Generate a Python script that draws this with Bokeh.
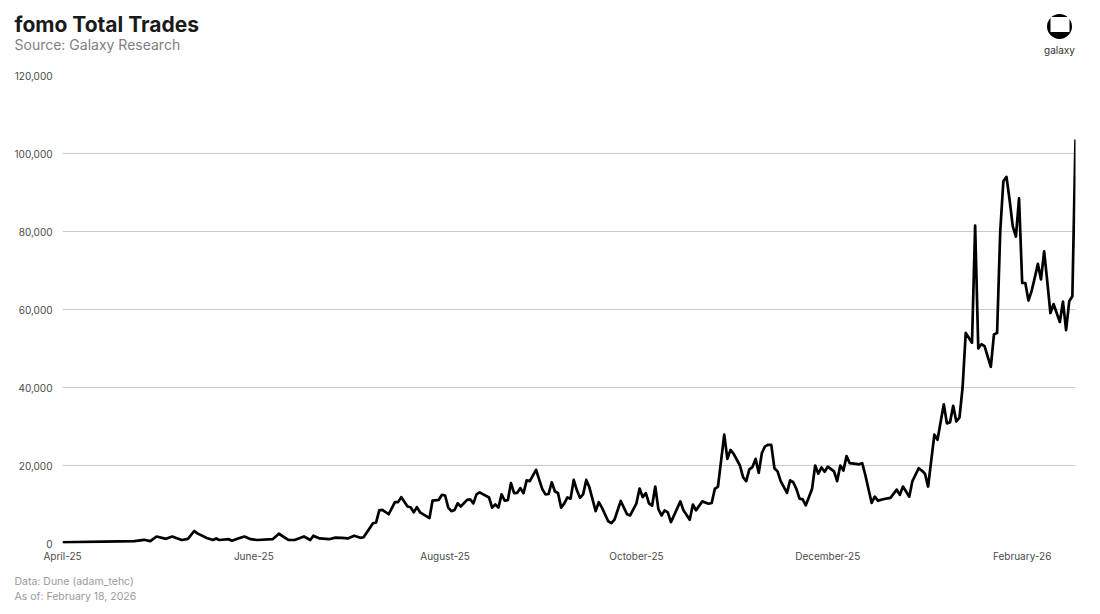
import pandas as pd
from bokeh.plotting import figure
from bokeh.layouts import column
from bokeh.core.properties import value
from bokeh.models import (FixedTicker, NumeralTickFormatter, DatetimeTickFormatter,
                          Range1d, ColumnDataSource)
from bokeh.embed import file_html
from bokeh.resources import INLINE

# ---------------- data ----------------
start_date = "2025-04-01"
end_date = "2026-02-18"

day_offsets = [
    0, 13, 23, 26, 28, 30, 33, 35, 38, 40, 42, 43, 46, 48, 49, 50, 53, 54, 56, 58,
    60, 62, 67, 69, 72, 74, 77, 79, 80, 82, 85, 87, 89, 91, 93, 95, 96, 99, 100, 101,
    102, 104, 106, 107, 108, 110, 111, 112, 113, 114, 117, 118, 120, 121, 122, 123, 124, 125, 126, 127,
    129, 130, 131, 132, 133, 136, 137, 138, 139, 140, 141, 142, 143, 144, 145, 146, 147, 148, 149, 151,
    153, 154, 155, 156, 157, 158, 159, 160, 161, 162, 163, 164, 165, 166, 167, 168, 170, 171, 172, 174,
    175, 176, 178, 180, 181, 183, 184, 185, 186, 187, 188, 189, 190, 191, 192, 193, 194, 195, 197, 198,
    200, 201, 202, 204, 206, 207, 208, 209, 211, 212, 213, 214, 216, 217, 218, 219, 220, 221, 222, 223,
    224, 225, 226, 227, 228, 229, 231, 232, 233, 234, 235, 236, 237, 239, 240, 241, 242, 243, 244, 246,
    247, 248, 249, 250, 251, 253, 254, 255, 256, 258, 259, 260, 262, 264, 266, 267, 268, 270, 271, 273,
    274, 275, 276, 278, 279, 281, 282, 283, 284, 285, 286, 287, 288, 290, 291, 292, 293, 294, 296, 297,
    298, 299, 300, 301, 302, 303, 304, 305, 306, 307, 308, 309, 310, 311, 312, 313, 314, 315, 316, 318,
    319, 320, 321, 322, 323,
]

trades = [
    300, 500, 600, 950, 600, 1800, 1200, 1800, 900, 1200, 3200, 2600, 1400, 900, 1300, 900, 1100, 700, 1300, 1800,
    1100, 900, 1100, 2500, 900, 900, 1800, 900, 2000, 1300, 1100, 1500, 1450, 1300, 2000, 1450, 1600, 5200, 5400, 8500,
    8600, 7500, 10600, 10600, 11900, 9500, 9300, 8000, 9300, 8000, 6500, 11000, 11200, 12500, 12300, 9200, 8300, 8600, 10300, 9500,
    11200, 11300, 10300, 12600, 13100, 11800, 9200, 10000, 9200, 12600, 11000, 11100, 15500, 12900, 13000, 14200, 12900, 16200, 16000, 18900,
    13900, 12600, 12700, 15700, 13400, 12900, 9200, 10300, 11800, 11500, 16300, 13700, 11700, 12600, 16300, 14400, 8300, 10600, 9200, 5700,
    5200, 6100, 10900, 7500, 7200, 10300, 14100, 11900, 12900, 10300, 9700, 14600, 8800, 7200, 8500, 8000, 5500, 7200, 10800, 8500,
    6100, 10000, 8500, 10800, 10200, 10400, 14000, 14600, 27900, 21700, 24000, 23000, 20000, 17000, 16000, 19000, 19600, 21700, 18100, 23200,
    24900, 25300, 25300, 19300, 18500, 16000, 13000, 16200, 15700, 14000, 11500, 11300, 9800, 14000, 20000, 17900, 19500, 18400, 19700, 18500,
    16000, 20000, 18700, 22400, 20600, 20400, 20300, 20600, 17500, 10400, 12000, 11000, 11400, 11700, 13800, 12500, 14600, 12000, 16000, 19300,
    18700, 17900, 14600, 27900, 26600, 35700, 30800, 31100, 35300, 31300, 32300, 40000, 54000, 51500, 81500, 50000, 51100, 50600, 45300, 53600,
    54000, 80000, 92900, 94000, 88000, 81300, 78700, 88500, 66800, 66800, 62300, 64700, 68100, 71700, 67700, 74900, 67200, 59100, 61400, 56800,
    62000, 54700, 62100, 63400, 103600,
]

y_ticks = [0, 20000, 40000, 60000, 80000, 100000, 120000]
tick_dates = ["2025-04-01", "2025-06-01", "2025-08-01", "2025-10-01", "2025-12-01", "2026-02-01"]

title_text = "fomo Total Trades"
subtitle_text = "Source: Galaxy Research"
footer_lines = ["Data: Dune (adam_tehc)", "As of: February 18, 2026"]
logo_text = "galaxy"

# ---------------- layout constants ----------------
FONT = "Inter"
W = 1092
HEAD_H = 67
MAIN_H = 501
FOOT_H = 38


def blank(h):
    f = figure(width=W, height=h, x_range=Range1d(0, W), y_range=Range1d(h, 0),
               output_backend="svg", toolbar_location=None,
               x_axis_location=None, y_axis_location=None,
               min_border_left=0, min_border_right=0, min_border_top=0, min_border_bottom=0)
    f.frame_align = False
    f.grid.visible = False
    f.outline_line_color = None
    f.background_fill_color = "white"
    f.border_fill_color = "white"
    return f


# ---------------- header ----------------
head = blank(HEAD_H)
head.text(x=[14], y=[24], text=[title_text], text_font=value(FONT), text_font_size="21px",
          text_font_style="bold", text_color="#1a1a1a", text_baseline="alphabetic")
head.text(x=[14], y=[44], text=[subtitle_text], text_font=value(FONT), text_font_size="14px",
          text_color="#7f7f7f", text_baseline="alphabetic")
# galaxy logo
head.scatter(x=[1059], y=[26], size=25, marker="circle", fill_color="black", line_color=None)
head.rect(x=[1059.5], y=[24], width=19, height=15, width_units="screen", height_units="screen",
          fill_color="white", line_color=None)
head.text(x=[1059], y=[49], text=[logo_text], text_font=value(FONT), text_font_size="10px",
          text_color="#333333", text_align="center", text_baseline="alphabetic")

# ---------------- main chart ----------------
dates = pd.Timestamp(start_date) + pd.to_timedelta(day_offsets, unit="D")
src = ColumnDataSource(dict(date=dates, trades=trades))

p = figure(width=W, height=MAIN_H, x_axis_type="datetime",
           x_range=Range1d(pd.Timestamp(start_date), pd.Timestamp(end_date)),
           y_range=Range1d(0, 120000),
           output_backend="svg", toolbar_location=None,
           min_border_left=62, min_border_right=17, min_border_top=8, min_border_bottom=25)
p.frame_align = False
p.outline_line_color = None
p.background_fill_color = "white"
p.border_fill_color = "white"

p.line("date", "trades", source=src, line_color="black", line_width=2.7, line_join="round")

tick_ms = [pd.Timestamp(d).value / 1e6 for d in tick_dates]
p.xaxis.ticker = FixedTicker(ticks=tick_ms)
fmt = "%B-%y"
p.xaxis.formatter = DatetimeTickFormatter(years=fmt, months=fmt, days=fmt, hours=fmt,
                                          hourmin=fmt, minutes=fmt, minsec=fmt, seconds=fmt,
                                          milliseconds=fmt, microseconds=fmt)
p.yaxis.ticker = FixedTicker(ticks=y_ticks)
p.yaxis.formatter = NumeralTickFormatter(format="0,0")

for ax in (p.xaxis[0], p.yaxis[0]):
    ax.axis_line_color = None
    ax.major_tick_line_color = None
    ax.minor_tick_line_color = None
    ax.major_tick_out = 0
    ax.major_tick_in = 0
    ax.minor_tick_out = 0
    ax.major_label_text_font = FONT
    ax.major_label_text_font_size = "10px"
    ax.major_label_text_color = "#4a4a4a"
p.xaxis.major_label_standoff = 6
p.yaxis.major_label_standoff = 10

p.xgrid.grid_line_color = None
p.ygrid.grid_line_color = "#cbcbcb"
p.ygrid.grid_line_width = 1

# ---------------- footer ----------------
foot = blank(FOOT_H)
foot.text(x=[14, 14], y=[12.5, 27.5], text=footer_lines, text_font=value(FONT), text_font_size="10.5px",
          text_color="#9a9a9a", text_baseline="alphabetic")

layout = column(head, p, foot, spacing=0)
open("out.html", "w").write(file_html(layout, INLINE))
